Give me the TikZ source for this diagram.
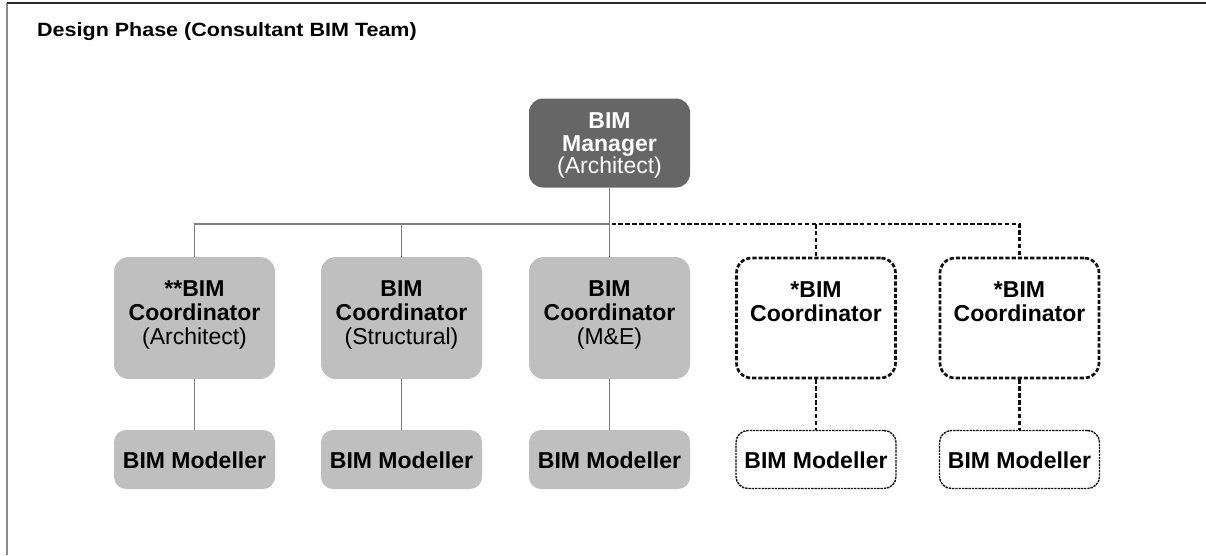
\documentclass[tikz,border=0pt]{standalone}
\usepackage{fontspec}
\setmainfont{Liberation Sans}
\newfontfamily\titlefont{Liberation Sans}[FakeStretch=1.12]
\definecolor{mgrfill}{HTML}{666666}
\definecolor{boxfill}{HTML}{BFBFBF}
\definecolor{linegray}{HTML}{7F7F7F}
\definecolor{framegray}{HTML}{8C8C8C}
\definecolor{dotblack}{HTML}{111111}
\begin{document}
\begin{tikzpicture}[x=1pt,y=-1pt,
  boxtext/.style={font=\fontsize{23}{24}\selectfont, align=center, inner sep=0pt},
  mgrtext/.style={font=\fontsize{23}{22.5}\selectfont, align=center, inner sep=0pt, text=white},
  mgrbox/.style={draw=none, fill=mgrfill, rounded corners=14pt, minimum width=161pt, minimum height=89pt, inner sep=0pt},
  coordbox/.style={draw=none, fill=boxfill, rounded corners=15pt, minimum width=161pt, minimum height=122pt, inner sep=0pt},
  dcoordbox/.style={draw=dotblack, line width=2.7pt, dash pattern=on 4.2pt off 2pt, rounded corners=15pt, minimum width=159pt, minimum height=120pt, inner sep=0pt},
  modbox/.style={draw=none, fill=boxfill, rounded corners=12pt, minimum width=161pt, minimum height=59pt, inner sep=0pt},
  dmodbox/.style={draw=dotblack, line width=1.4pt, dash pattern=on 2.4pt off 0.9pt, rounded corners=12pt, minimum width=160pt, minimum height=58pt, inner sep=0pt},
  solidline/.style={draw=linegray, line width=1.3pt},
  dotline/.style={draw=dotblack, line width=2.9pt, dash pattern=on 4.5pt off 2.4pt}
]
\useasboundingbox (0,0) rectangle (1206,555);
% frame
\coordinate (ftl) at (7,3);
\coordinate (ftr) at (1206,3);
\coordinate (fbl) at (7,555);
\draw[draw=framegray, line width=1.6pt] (ftl) -- (fbl);
\draw[draw=black!85, line width=1.4pt] (ftl) -- (ftr);
\node[anchor=base west, inner sep=0pt, font=\titlefont\fontsize{19.2}{20}\selectfont\bfseries] (title) at (37,36.5) {Design Phase (Consultant BIM Team)};

% manager
\node[mgrbox] (mgr) at (609.5,143) {};
\node[mgrtext] (mgrt) at (609.5,145.5) {\textbf{BIM}\\\textbf{Manager}\\(Architect)};

% coordinators
\node[coordbox] (c1) at (194.5,318) {};
\node[coordbox] (c2) at (401.5,318) {};
\node[coordbox] (c3) at (609.5,318) {};
\node[dcoordbox] (c4) at (816,318) {};
\node[dcoordbox] (c5) at (1019.5,318) {};
\node[boxtext] (c1t) at (194.5,314.5) {\textbf{**BIM}\\\textbf{Coordinator}\\(Architect)};
\node[boxtext] (c2t) at (401.5,314.5) {\textbf{BIM}\\\textbf{Coordinator}\\(Structural)};
\node[boxtext] (c3t) at (609.5,314.5) {\textbf{BIM}\\\textbf{Coordinator}\\(M\&E)};
\node[boxtext] (c4t) at (816,301.5) {\textbf{*BIM}\\\textbf{Coordinator}};
\node[boxtext] (c5t) at (1019.5,301.5) {\textbf{*BIM}\\\textbf{Coordinator}};

% modellers
\node[modbox] (m1) at (194.5,459.5) {};
\node[modbox] (m2) at (401.5,459.5) {};
\node[modbox] (m3) at (609.5,459.5) {};
\node[dmodbox] (m4) at (816,459.5) {};
\node[dmodbox] (m5) at (1019.5,459.5) {};
\node[boxtext] (m1t) at (194.5,460) {\textbf{BIM Modeller}};
\node[boxtext] (m2t) at (401.5,460) {\textbf{BIM Modeller}};
\node[boxtext] (m3t) at (609.5,460) {\textbf{BIM Modeller}};
\node[boxtext] (m4t) at (816,460) {\textbf{BIM Modeller}};
\node[boxtext] (m5t) at (1019.5,460) {\textbf{BIM Modeller}};

% connectors
\coordinate (bus) at (609.5,224);
\draw[solidline] (mgr.south) -- (c3.north);
\draw[solidline] (c1.north) |- (bus);
\draw[solidline] (c2.north) -- (c2.north |- bus);
\draw[dotline] ([xshift=2pt]bus) -| (c5.north);
\draw[dotline] (c4.north |- bus) -- (c4.north);
\draw[solidline] (c1.south) -- (m1.north);
\draw[solidline] (c2.south) -- (m2.north);
\draw[solidline] (c3.south) -- (m3.north);
\draw[dotline] (c4.south) -- (m4.north);
\draw[dotline] (c5.south) -- (m5.north);
\end{tikzpicture}
\end{document}
